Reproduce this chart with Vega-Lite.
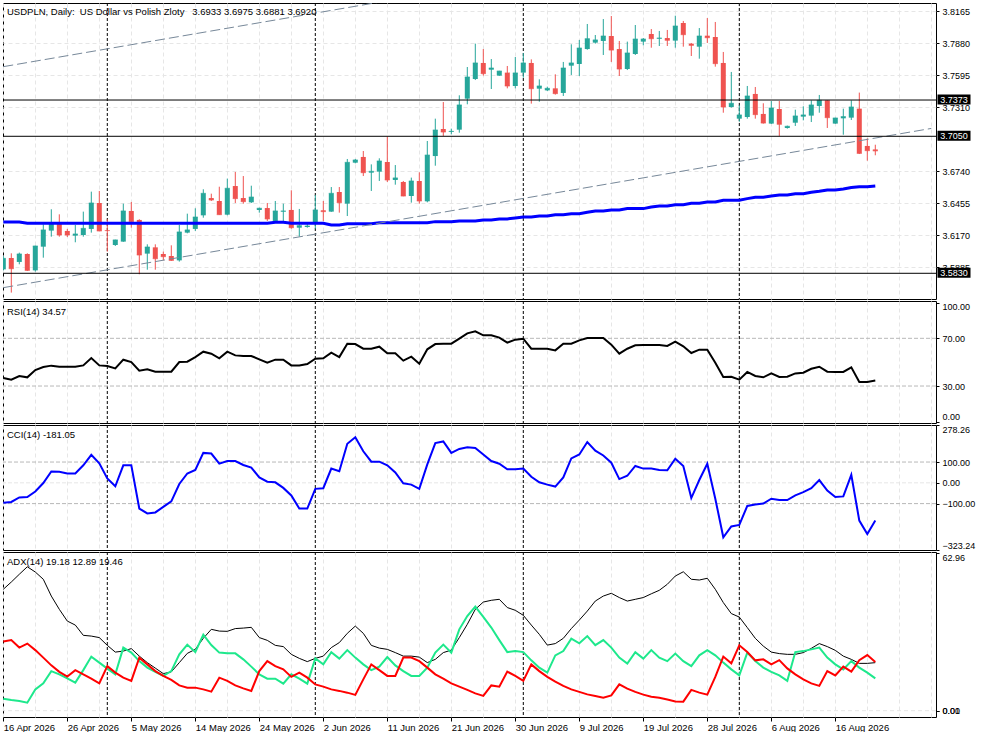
{
  "$schema": "https://vega.github.io/schema/vega-lite/v6.json",
  "background": "white",
  "padding": {"left": 2, "top": 2, "right": 0, "bottom": 0},
  "autosize": {"type": "pad"},
  "spacing": 2,
  "bounds": "flush",
  "config": {
    "font": "Liberation Sans",
    "view": {"stroke": "#000000", "strokeWidth": 1},
    "axis": {"labelFont": "Liberation Sans", "labelFontSize": 9, "labelColor": "#000000", "tickColor": "#000000", "tickSize": 3, "labelPadding": 3, "domain": false, "labelOverlap": false, "gridColor": "#e6e6e6", "gridDash": [4, 3], "gridWidth": 1},
    "axisY": {"labelOverlap": false},
    "axisQuantitative": {"labelOverlap": false},
    "title": {"font": "Liberation Sans", "fontSize": 9.5, "fontWeight": "normal", "color": "#000000", "anchor": "start", "frame": "group", "baseline": "top", "dx": 4}
  },
  "datasets": {
    "bars": [
      {"d":"2026-04-16","o":3.5865,"h":3.5984,"l":3.5856,"c":3.5963,"ma":3.6287,"rsi":36.7,"cci":-95.3,"adx":48.5,"pdi":4.8,"mdi":27.6},
      {"d":"2026-04-17","o":3.5966,"h":3.6008,"l":3.5658,"c":3.5871,"ma":3.6287,"rsi":35.3,"cci":-92.1,"adx":51.4,"pdi":4.3,"mdi":28.2},
      {"d":"2026-04-19","o":3.5931,"h":3.6014,"l":3.5910,"c":3.6002,"ma":3.6287,"rsi":38.4,"cci":-70.1,"adx":54.5,"pdi":3.9,"mdi":25.2},
      {"d":"2026-04-20","o":3.6002,"h":3.6008,"l":3.5850,"c":3.5856,"ma":3.6275,"rsi":37.3,"cci":-68.5,"adx":57.5,"pdi":3.2,"mdi":26.8},
      {"d":"2026-04-21","o":3.5856,"h":3.6076,"l":3.5845,"c":3.6073,"ma":3.6275,"rsi":43.4,"cci":-41.7,"adx":55.4,"pdi":8.5,"mdi":24.2},
      {"d":"2026-04-22","o":3.6067,"h":3.6266,"l":3.5969,"c":3.6216,"ma":3.6275,"rsi":45.9,"cci":-0.8,"adx":52.5,"pdi":10.9,"mdi":21.2},
      {"d":"2026-04-23","o":3.6210,"h":3.6400,"l":3.6156,"c":3.6281,"ma":3.6275,"rsi":47.1,"cci":54.3,"adx":45.8,"pdi":15.8,"mdi":18.1},
      {"d":"2026-04-24","o":3.6275,"h":3.6355,"l":3.6156,"c":3.6171,"ma":3.6275,"rsi":46.2,"cci":52.8,"adx":40.5,"pdi":14.5,"mdi":15.5},
      {"d":"2026-04-26","o":3.6207,"h":3.6225,"l":3.6153,"c":3.6171,"ma":3.6275,"rsi":46.2,"cci":44.9,"adx":35.8,"pdi":12.9,"mdi":13.6},
      {"d":"2026-04-27","o":3.6165,"h":3.6260,"l":3.6106,"c":3.6180,"ma":3.6275,"rsi":46.2,"cci":44.9,"adx":34.2,"pdi":11.2,"mdi":16.2},
      {"d":"2026-04-28","o":3.6171,"h":3.6379,"l":3.6156,"c":3.6230,"ma":3.6275,"rsi":47.3,"cci":84.3,"adx":30.1,"pdi":16.2,"mdi":14.5},
      {"d":"2026-04-29","o":3.6225,"h":3.6557,"l":3.6192,"c":3.6456,"ma":3.6275,"rsi":53.5,"cci":134.6,"adx":29.8,"pdi":21.6,"mdi":12.8},
      {"d":"2026-04-30","o":3.6456,"h":3.6563,"l":3.6205,"c":3.6207,"ma":3.6275,"rsi":47.3,"cci":93.7,"adx":29.2,"pdi":19.2,"mdi":10.9},
      {"d":"2026-05-01","o":3.6213,"h":3.6311,"l":3.6023,"c":3.6210,"ma":3.6275,"rsi":46.8,"cci":21.3,"adx":26.1,"pdi":16.8,"mdi":17.8},
      {"d":"2026-05-03","o":3.6082,"h":3.6129,"l":3.6073,"c":3.6127,"ma":3.6275,"rsi":44.8,"cci":-16.5,"adx":23.4,"pdi":14.5,"mdi":15.2},
      {"d":"2026-05-04","o":3.6112,"h":3.6450,"l":3.6110,"c":3.6385,"ma":3.6275,"rsi":52.1,"cci":84.3,"adx":23.8,"pdi":25.2,"mdi":13.2},
      {"d":"2026-05-05","o":3.6385,"h":3.6465,"l":3.6236,"c":3.6290,"ma":3.6275,"rsi":50.1,"cci":84.3,"adx":24.8,"pdi":23.2,"mdi":11.9},
      {"d":"2026-05-06","o":3.6305,"h":3.6311,"l":3.5821,"c":3.5993,"ma":3.6275,"rsi":42.9,"cci":-123.6,"adx":21.8,"pdi":19.8,"mdi":21.2},
      {"d":"2026-05-07","o":3.6005,"h":3.6088,"l":3.5862,"c":3.6064,"ma":3.6275,"rsi":44.0,"cci":-147.2,"adx":19.2,"pdi":17.2,"mdi":18.5},
      {"d":"2026-05-08","o":3.6061,"h":3.6088,"l":3.5862,"c":3.5960,"ma":3.6275,"rsi":42.0,"cci":-142.5,"adx":17.0,"pdi":15.5,"mdi":15.8},
      {"d":"2026-05-10","o":3.6002,"h":3.6023,"l":3.5945,"c":3.5978,"ma":3.6275,"rsi":42.0,"cci":-115.7,"adx":14.8,"pdi":13.9,"mdi":13.9},
      {"d":"2026-05-11","o":3.5984,"h":3.6079,"l":3.5940,"c":3.5945,"ma":3.6275,"rsi":42.0,"cci":-89.0,"adx":15.5,"pdi":15.8,"mdi":12.3},
      {"d":"2026-05-12","o":3.5945,"h":3.6260,"l":3.5934,"c":3.6198,"ma":3.6275,"rsi":50.1,"cci":-5.5,"adx":19.2,"pdi":22.5,"mdi":10.1},
      {"d":"2026-05-13","o":3.6192,"h":3.6361,"l":3.6186,"c":3.6216,"ma":3.6275,"rsi":50.4,"cci":44.9,"adx":22.9,"pdi":26.4,"mdi":9.2},
      {"d":"2026-05-14","o":3.6225,"h":3.6409,"l":3.6207,"c":3.6331,"ma":3.6275,"rsi":54.3,"cci":62.2,"adx":24.5,"pdi":23.4,"mdi":9.2},
      {"d":"2026-05-15","o":3.6346,"h":3.6578,"l":3.6325,"c":3.6542,"ma":3.6275,"rsi":58.8,"cci":144.1,"adx":28.9,"pdi":30.4,"mdi":8.5},
      {"d":"2026-05-17","o":3.6500,"h":3.6539,"l":3.6474,"c":3.6483,"ma":3.6275,"rsi":57.1,"cci":140.9,"adx":32.5,"pdi":26.2,"mdi":7.6},
      {"d":"2026-05-18","o":3.6474,"h":3.6601,"l":3.6350,"c":3.6352,"ma":3.6275,"rsi":53.2,"cci":92.1,"adx":31.8,"pdi":23.2,"mdi":13.2},
      {"d":"2026-05-19","o":3.6352,"h":3.6673,"l":3.6346,"c":3.6587,"ma":3.6275,"rsi":58.8,"cci":104.7,"adx":31.7,"pdi":22.9,"mdi":11.9},
      {"d":"2026-05-20","o":3.6607,"h":3.6732,"l":3.6456,"c":3.6495,"ma":3.6275,"rsi":55.7,"cci":104.7,"adx":32.8,"pdi":22.9,"mdi":10.1},
      {"d":"2026-05-21","o":3.6500,"h":3.6696,"l":3.6450,"c":3.6468,"ma":3.6275,"rsi":55.2,"cci":85.8,"adx":33.0,"pdi":20.5,"mdi":8.9},
      {"d":"2026-05-22","o":3.6462,"h":3.6610,"l":3.6456,"c":3.6509,"ma":3.6275,"rsi":55.2,"cci":73.2,"adx":33.3,"pdi":17.6,"mdi":7.9},
      {"d":"2026-05-24","o":3.6394,"h":3.6414,"l":3.6370,"c":3.6409,"ma":3.6275,"rsi":52.4,"cci":26.0,"adx":29.2,"pdi":14.5,"mdi":15.8},
      {"d":"2026-05-25","o":3.6411,"h":3.6456,"l":3.6296,"c":3.6314,"ma":3.6275,"rsi":49.6,"cci":5.5,"adx":28.1,"pdi":12.8,"mdi":19.8},
      {"d":"2026-05-26","o":3.6296,"h":3.6474,"l":3.6294,"c":3.6385,"ma":3.6284,"rsi":52.1,"cci":2.4,"adx":26.1,"pdi":12.8,"mdi":17.8},
      {"d":"2026-05-27","o":3.6379,"h":3.6450,"l":3.6296,"c":3.6385,"ma":3.6284,"rsi":52.1,"cci":-24.4,"adx":25.6,"pdi":10.8,"mdi":16.5},
      {"d":"2026-05-28","o":3.6394,"h":3.6569,"l":3.6227,"c":3.6236,"ma":3.6275,"rsi":47.3,"cci":-60.6,"adx":22.5,"pdi":14.5,"mdi":13.5},
      {"d":"2026-05-29","o":3.6236,"h":3.6403,"l":3.6156,"c":3.6254,"ma":3.6275,"rsi":47.3,"cci":-123.6,"adx":20.9,"pdi":12.8,"mdi":15.2},
      {"d":"2026-05-31","o":3.6242,"h":3.6275,"l":3.6236,"c":3.6251,"ma":3.6275,"rsi":48.5,"cci":-123.6,"adx":19.6,"pdi":10.8,"mdi":13.2},
      {"d":"2026-06-01","o":3.6272,"h":3.6527,"l":3.6227,"c":3.6394,"ma":3.6275,"rsi":52.9,"cci":-29.1,"adx":20.9,"pdi":20.9,"mdi":10.5},
      {"d":"2026-06-02","o":3.6391,"h":3.6474,"l":3.6296,"c":3.6379,"ma":3.6275,"rsi":53.2,"cci":-26.0,"adx":21.8,"pdi":18.5,"mdi":9.6},
      {"d":"2026-06-03","o":3.6379,"h":3.6598,"l":3.6377,"c":3.6542,"ma":3.6260,"rsi":58.0,"cci":68.5,"adx":25.2,"pdi":23.4,"mdi":8.5},
      {"d":"2026-06-04","o":3.6554,"h":3.6598,"l":3.6370,"c":3.6459,"ma":3.6260,"rsi":54.3,"cci":55.9,"adx":27.2,"pdi":20.8,"mdi":7.9},
      {"d":"2026-06-05","o":3.6450,"h":3.6848,"l":3.6340,"c":3.6818,"ma":3.6272,"rsi":65.5,"cci":188.2,"adx":30.9,"pdi":24.2,"mdi":7.2},
      {"d":"2026-06-07","o":3.6815,"h":3.6848,"l":3.6809,"c":3.6839,"ma":3.6272,"rsi":65.2,"cci":219.7,"adx":33.8,"pdi":21.2,"mdi":6.3},
      {"d":"2026-06-08","o":3.6866,"h":3.6919,"l":3.6696,"c":3.6726,"ma":3.6272,"rsi":61.3,"cci":152.0,"adx":30.9,"pdi":18.5,"mdi":12.5},
      {"d":"2026-06-09","o":3.6726,"h":3.6800,"l":3.6563,"c":3.6738,"ma":3.6272,"rsi":61.3,"cci":101.6,"adx":26.1,"pdi":16.2,"mdi":18.5},
      {"d":"2026-06-10","o":3.6735,"h":3.6854,"l":3.6652,"c":3.6830,"ma":3.6281,"rsi":63.0,"cci":101.6,"adx":25.0,"pdi":17.6,"mdi":16.2},
      {"d":"2026-06-11","o":3.6821,"h":3.7047,"l":3.6643,"c":3.6661,"ma":3.6281,"rsi":57.4,"cci":84.3,"adx":24.5,"pdi":21.4,"mdi":13.9},
      {"d":"2026-06-12","o":3.6661,"h":3.6794,"l":3.6619,"c":3.6679,"ma":3.6281,"rsi":57.4,"cci":49.6,"adx":23.2,"pdi":18.1,"mdi":13.9},
      {"d":"2026-06-14","o":3.6643,"h":3.6652,"l":3.6516,"c":3.6518,"ma":3.6281,"rsi":51.3,"cci":-2.4,"adx":21.8,"pdi":15.8,"mdi":21.2},
      {"d":"2026-06-15","o":3.6518,"h":3.6682,"l":3.6459,"c":3.6652,"ma":3.6281,"rsi":54.6,"cci":-8.7,"adx":21.8,"pdi":13.9,"mdi":21.2},
      {"d":"2026-06-16","o":3.6652,"h":3.6729,"l":3.6450,"c":3.6474,"ma":3.6281,"rsi":48.7,"cci":-29.1,"adx":21.4,"pdi":13.9,"mdi":19.8},
      {"d":"2026-06-17","o":3.6471,"h":3.7008,"l":3.6462,"c":3.6883,"ma":3.6281,"rsi":60.8,"cci":89.0,"adx":19.2,"pdi":17.2,"mdi":17.2},
      {"d":"2026-06-18","o":3.6874,"h":3.7207,"l":3.6788,"c":3.7106,"ma":3.6290,"rsi":65.2,"cci":191.3,"adx":20.5,"pdi":23.2,"mdi":14.5},
      {"d":"2026-06-19","o":3.7115,"h":3.7355,"l":3.7053,"c":3.7088,"ma":3.6290,"rsi":65.5,"cci":199.2,"adx":23.2,"pdi":26.4,"mdi":12.8},
      {"d":"2026-06-21","o":3.7088,"h":3.7118,"l":3.7067,"c":3.7094,"ma":3.6290,"rsi":65.5,"cci":144.1,"adx":24.2,"pdi":23.2,"mdi":10.9},
      {"d":"2026-06-22","o":3.7109,"h":3.7415,"l":3.7082,"c":3.7329,"ma":3.6296,"rsi":69.7,"cci":163.0,"adx":29.2,"pdi":32.5,"mdi":9.6},
      {"d":"2026-06-23","o":3.7385,"h":3.7667,"l":3.7335,"c":3.7578,"ma":3.6296,"rsi":74.2,"cci":170.9,"adx":34.5,"pdi":37.8,"mdi":8.3},
      {"d":"2026-06-24","o":3.7560,"h":3.7875,"l":3.7551,"c":3.7703,"ma":3.6296,"rsi":75.9,"cci":167.7,"adx":40.5,"pdi":41.6,"mdi":6.9},
      {"d":"2026-06-25","o":3.7703,"h":3.7827,"l":3.7590,"c":3.7608,"ma":3.6305,"rsi":72.5,"cci":136.2,"adx":43.4,"pdi":37.5,"mdi":5.9},
      {"d":"2026-06-26","o":3.7643,"h":3.7738,"l":3.7471,"c":3.7658,"ma":3.6305,"rsi":72.5,"cci":104.7,"adx":44.1,"pdi":33.2,"mdi":10.1},
      {"d":"2026-06-28","o":3.7590,"h":3.7633,"l":3.7588,"c":3.7631,"ma":3.6314,"rsi":70.6,"cci":92.1,"adx":44.5,"pdi":28.2,"mdi":9.6},
      {"d":"2026-06-29","o":3.7617,"h":3.7676,"l":3.7477,"c":3.7498,"ma":3.6314,"rsi":66.4,"cci":65.4,"adx":41.2,"pdi":23.4,"mdi":15.6},
      {"d":"2026-06-30","o":3.7498,"h":3.7756,"l":3.7477,"c":3.7614,"ma":3.6323,"rsi":68.9,"cci":65.4,"adx":40.1,"pdi":23.8,"mdi":13.9},
      {"d":"2026-07-01","o":3.7617,"h":3.7792,"l":3.7572,"c":3.7703,"ma":3.6331,"rsi":69.7,"cci":68.5,"adx":38.1,"pdi":23.4,"mdi":11.9},
      {"d":"2026-07-02","o":3.7703,"h":3.7735,"l":3.7341,"c":3.7474,"ma":3.6331,"rsi":61.3,"cci":29.1,"adx":34.2,"pdi":20.1,"mdi":18.5},
      {"d":"2026-07-03","o":3.7474,"h":3.7557,"l":3.7358,"c":3.7498,"ma":3.6340,"rsi":61.3,"cci":2.4,"adx":30.5,"pdi":17.2,"mdi":15.8},
      {"d":"2026-07-05","o":3.7459,"h":3.7492,"l":3.7453,"c":3.7477,"ma":3.6340,"rsi":61.3,"cci":-8.7,"adx":26.2,"pdi":15.2,"mdi":13.5},
      {"d":"2026-07-06","o":3.7477,"h":3.7602,"l":3.7421,"c":3.7430,"ma":3.6352,"rsi":59.9,"cci":-18.1,"adx":26.8,"pdi":22.1,"mdi":11.6},
      {"d":"2026-07-07","o":3.7436,"h":3.7712,"l":3.7409,"c":3.7658,"ma":3.6352,"rsi":65.5,"cci":26.0,"adx":28.9,"pdi":23.8,"mdi":9.9},
      {"d":"2026-07-08","o":3.7679,"h":3.7869,"l":3.7596,"c":3.7703,"ma":3.6361,"rsi":65.5,"cci":117.3,"adx":32.8,"pdi":28.8,"mdi":8.5},
      {"d":"2026-07-09","o":3.7694,"h":3.7908,"l":3.7587,"c":3.7836,"ma":3.6361,"rsi":68.3,"cci":136.2,"adx":36.2,"pdi":26.9,"mdi":7.5},
      {"d":"2026-07-10","o":3.7827,"h":3.8050,"l":3.7821,"c":3.7919,"ma":3.6373,"rsi":70.3,"cci":196.1,"adx":39.8,"pdi":29.8,"mdi":6.5},
      {"d":"2026-07-12","o":3.7884,"h":3.7952,"l":3.7875,"c":3.7908,"ma":3.6385,"rsi":70.3,"cci":155.1,"adx":43.8,"pdi":26.2,"mdi":5.9},
      {"d":"2026-07-13","o":3.7899,"h":3.8094,"l":3.7774,"c":3.7943,"ma":3.6385,"rsi":70.3,"cci":131.5,"adx":45.8,"pdi":28.2,"mdi":5.2},
      {"d":"2026-07-14","o":3.7943,"h":3.8121,"l":3.7712,"c":3.7818,"ma":3.6394,"rsi":64.7,"cci":96.9,"adx":46.9,"pdi":25.2,"mdi":6.1},
      {"d":"2026-07-15","o":3.7827,"h":3.7899,"l":3.7587,"c":3.7649,"ma":3.6394,"rsi":57.1,"cci":18.1,"adx":45.2,"pdi":21.2,"mdi":10.5},
      {"d":"2026-07-16","o":3.7649,"h":3.7893,"l":3.7640,"c":3.7792,"ma":3.6406,"rsi":61.3,"cci":33.9,"adx":43.8,"pdi":18.8,"mdi":8.8},
      {"d":"2026-07-17","o":3.7783,"h":3.8041,"l":3.7774,"c":3.7916,"ma":3.6406,"rsi":64.1,"cci":81.1,"adx":44.5,"pdi":23.4,"mdi":7.5},
      {"d":"2026-07-19","o":3.7893,"h":3.7925,"l":3.7860,"c":3.7916,"ma":3.6406,"rsi":64.4,"cci":68.5,"adx":45.2,"pdi":20.8,"mdi":6.4},
      {"d":"2026-07-20","o":3.7961,"h":3.8005,"l":3.7839,"c":3.7919,"ma":3.6420,"rsi":64.4,"cci":68.5,"adx":46.7,"pdi":24.2,"mdi":5.6},
      {"d":"2026-07-21","o":3.7919,"h":3.7988,"l":3.7854,"c":3.7925,"ma":3.6429,"rsi":64.4,"cci":62.2,"adx":48.1,"pdi":21.2,"mdi":5.2},
      {"d":"2026-07-22","o":3.7925,"h":3.7997,"l":3.7854,"c":3.7905,"ma":3.6429,"rsi":63.6,"cci":60.6,"adx":50.5,"pdi":19.8,"mdi":4.5},
      {"d":"2026-07-23","o":3.7902,"h":3.8124,"l":3.7839,"c":3.8032,"ma":3.6441,"rsi":67.2,"cci":115.7,"adx":53.8,"pdi":22.8,"mdi":3.7},
      {"d":"2026-07-24","o":3.8059,"h":3.8077,"l":3.7848,"c":3.7955,"ma":3.6441,"rsi":63.3,"cci":81.1,"adx":55.5,"pdi":19.8,"mdi":3.6},
      {"d":"2026-07-26","o":3.7875,"h":3.7881,"l":3.7765,"c":3.7860,"ma":3.6453,"rsi":57.7,"cci":-73.2,"adx":52.5,"pdi":17.8,"mdi":8.3},
      {"d":"2026-07-27","o":3.7848,"h":3.8014,"l":3.7741,"c":3.7943,"ma":3.6453,"rsi":60.5,"cci":13.4,"adx":52.2,"pdi":22.1,"mdi":7.2},
      {"d":"2026-07-28","o":3.7946,"h":3.8103,"l":3.7881,"c":3.7928,"ma":3.6465,"rsi":60.5,"cci":92.1,"adx":52.9,"pdi":24.2,"mdi":6.4},
      {"d":"2026-07-29","o":3.7934,"h":3.8068,"l":3.7670,"c":3.7697,"ma":3.6465,"rsi":49.6,"cci":-76.4,"adx":48.5,"pdi":22.1,"mdi":13.5},
      {"d":"2026-07-30","o":3.7703,"h":3.7801,"l":3.7260,"c":3.7311,"ma":3.6480,"rsi":37.6,"cci":-262.2,"adx":43.2,"pdi":19.2,"mdi":21.6},
      {"d":"2026-07-31","o":3.7311,"h":3.7623,"l":3.7305,"c":3.7344,"ma":3.6480,"rsi":37.8,"cci":-210.2,"adx":38.8,"pdi":16.5,"mdi":18.9},
      {"d":"2026-08-02","o":3.7207,"h":3.7326,"l":3.7180,"c":3.7240,"ma":3.6480,"rsi":35.3,"cci":-202.4,"adx":37.4,"pdi":14.1,"mdi":26.1},
      {"d":"2026-08-03","o":3.7222,"h":3.7498,"l":3.7207,"c":3.7409,"ma":3.6495,"rsi":41.8,"cci":-111.0,"adx":33.2,"pdi":23.2,"mdi":23.4},
      {"d":"2026-08-04","o":3.7427,"h":3.7489,"l":3.7207,"c":3.7243,"ma":3.6507,"rsi":38.4,"cci":-104.7,"adx":28.9,"pdi":19.8,"mdi":20.1},
      {"d":"2026-08-05","o":3.7249,"h":3.7344,"l":3.7163,"c":3.7168,"ma":3.6507,"rsi":37.3,"cci":-100.0,"adx":25.8,"pdi":17.2,"mdi":20.5},
      {"d":"2026-08-06","o":3.7163,"h":3.7364,"l":3.7160,"c":3.7302,"ma":3.6518,"rsi":40.6,"cci":-76.4,"adx":23.4,"pdi":15.5,"mdi":18.5},
      {"d":"2026-08-07","o":3.7293,"h":3.7364,"l":3.7053,"c":3.7157,"ma":3.6527,"rsi":37.6,"cci":-82.7,"adx":22.8,"pdi":14.1,"mdi":20.2},
      {"d":"2026-08-09","o":3.7124,"h":3.7145,"l":3.7118,"c":3.7139,"ma":3.6527,"rsi":37.8,"cci":-82.7,"adx":22.5,"pdi":11.9,"mdi":16.9},
      {"d":"2026-08-10","o":3.7171,"h":3.7287,"l":3.7142,"c":3.7231,"ma":3.6539,"rsi":40.6,"cci":-60.6,"adx":22.5,"pdi":23.4,"mdi":14.5},
      {"d":"2026-08-11","o":3.7225,"h":3.7317,"l":3.7192,"c":3.7240,"ma":3.6539,"rsi":41.2,"cci":-44.9,"adx":23.2,"pdi":23.8,"mdi":12.5},
      {"d":"2026-08-12","o":3.7234,"h":3.7370,"l":3.7177,"c":3.7329,"ma":3.6551,"rsi":44.5,"cci":-26.0,"adx":24.9,"pdi":24.5,"mdi":10.9},
      {"d":"2026-08-13","o":3.7320,"h":3.7418,"l":3.7260,"c":3.7370,"ma":3.6560,"rsi":46.2,"cci":13.4,"adx":26.8,"pdi":25.2,"mdi":9.9},
      {"d":"2026-08-14","o":3.7370,"h":3.7372,"l":3.7124,"c":3.7216,"ma":3.6572,"rsi":42.0,"cci":-37.0,"adx":25.6,"pdi":21.2,"mdi":15.8},
      {"d":"2026-08-16","o":3.7163,"h":3.7215,"l":3.7161,"c":3.7213,"ma":3.6572,"rsi":41.8,"cci":-68.5,"adx":24.1,"pdi":18.5,"mdi":14.1},
      {"d":"2026-08-17","o":3.7210,"h":3.7296,"l":3.7064,"c":3.7225,"ma":3.6581,"rsi":41.8,"cci":-65.4,"adx":21.8,"pdi":16.5,"mdi":17.6},
      {"d":"2026-08-18","o":3.7216,"h":3.7370,"l":3.7195,"c":3.7311,"ma":3.6593,"rsi":45.7,"cci":38.6,"adx":20.5,"pdi":19.8,"mdi":15.6},
      {"d":"2026-08-19","o":3.7296,"h":3.7439,"l":3.6892,"c":3.6898,"ma":3.6601,"rsi":33.4,"cci":-181.9,"adx":18.9,"pdi":17.2,"mdi":20.2},
      {"d":"2026-08-20","o":3.6964,"h":3.7032,"l":3.6833,"c":3.6922,"ma":3.6601,"rsi":33.4,"cci":-246.5,"adx":18.9,"pdi":15.2,"mdi":22.2},
      {"d":"2026-08-21","o":3.6933,"h":3.6975,"l":3.6881,"c":3.6920,"ma":3.6607,"rsi":34.57,"cci":-181.05,"adx":19.18,"pdi":12.89,"mdi":19.46}
    ],
    "seps": [{"d":"2026-05-01"},{"d":"2026-06-01"},{"d":"2026-07-01"},{"d":"2026-08-02"}],
    "trend": [
      {"d":"2026-04-16","p":3.5702,"t":"lower"},{"d":"2026-08-30","p":3.7120,"t":"lower"},
      {"d":"2026-04-16","p":3.7670,"t":"upper"},{"d":"2026-08-30","p":3.9088,"t":"upper"}
    ],
    "levels": [{"v":3.7373},{"v":3.7050},{"v":3.5830}]
  },
  "vconcat": [
    {
      "width": 933, "height": 296,
      "title": {"text": "USDPLN, Daily:\u00a0 US Dollar vs Polish Zloty\u00a0\u00a0 3.6933 3.6975 3.6881 3.6920", "offset": -14},
      "layer": [
        {
          "data": {"name": "seps"},
          "mark": {"type": "rule", "color": "#000000", "strokeDash": [3, 2], "strokeWidth": 1},
          "encoding": {
            "x": {"field": "d", "type": "ordinal", "title": null, "scale": {"type": "point", "padding": 0.3125, "align": 0.06, "domain": {"unionWith": ["2026-08-23","2026-08-24","2026-08-25","2026-08-26","2026-08-27","2026-08-28","2026-08-30"]}},
              "axis": {"values": ["2026-04-16","2026-04-21","2026-04-26","2026-04-30","2026-05-05","2026-05-10","2026-05-14","2026-05-19","2026-05-24","2026-05-28","2026-06-02","2026-06-07","2026-06-11","2026-06-16","2026-06-21","2026-06-25","2026-06-30","2026-07-05","2026-07-09","2026-07-14","2026-07-19","2026-07-23","2026-07-28","2026-08-02","2026-08-06","2026-08-11","2026-08-16","2026-08-20","2026-08-25","2026-08-30"], "labels": false, "ticks": false, "title": null, "grid": true}}
          }
        },
        {
          "data": {"name": "bars"},
          "mark": {"type": "rule", "strokeWidth": 1, "clip": true},
          "encoding": {
            "x": {"field": "d", "type": "ordinal", "title": null, "scale": {"type": "point", "padding": 0.3125, "align": 0.06, "domain": {"unionWith": ["2026-08-23","2026-08-24","2026-08-25","2026-08-26","2026-08-27","2026-08-28","2026-08-30"]}}},
            "y": {"field": "l", "type": "quantitative", "title": null, "scale": {"domain": [3.5601, 3.8237], "zero": false, "nice": false},
              "axis": {"orient": "right", "title": null, "values": [3.8165, 3.788, 3.7595, 3.731, 3.674, 3.6455, 3.617, 3.5885], "tickCount": 20, "format": ".4f", "grid": true, "labelOverlap": false}},
            "y2": {"field": "h"},
            "color": {"condition": {"test": "datum.c >= datum.o", "value": "#26a69a"}, "value": "#ef5350"}
          }
        },
        {
          "data": {"name": "bars"},
          "mark": {"type": "bar", "width": 5, "clip": true},
          "encoding": {
            "x": {"field": "d", "type": "ordinal", "title": null, "scale": {"type": "point", "padding": 0.3125, "align": 0.06, "domain": {"unionWith": ["2026-08-23","2026-08-24","2026-08-25","2026-08-26","2026-08-27","2026-08-28","2026-08-30"]}}},
            "y": {"field": "o", "type": "quantitative", "title": null, "scale": {"domain": [3.5601, 3.8237], "zero": false, "nice": false}},
            "y2": {"field": "c"},
            "color": {"condition": {"test": "datum.c >= datum.o", "value": "#26a69a"}, "value": "#ef5350"}
          }
        },
        {
          "data": {"name": "bars"},
          "mark": {"type": "tick", "size": 5, "thickness": 1, "orient": "horizontal", "clip": true},
          "encoding": {
            "x": {"field": "d", "type": "ordinal", "title": null, "scale": {"type": "point", "padding": 0.3125, "align": 0.06, "domain": {"unionWith": ["2026-08-23","2026-08-24","2026-08-25","2026-08-26","2026-08-27","2026-08-28","2026-08-30"]}}},
            "y": {"field": "c", "type": "quantitative", "title": null, "scale": {"domain": [3.5601, 3.8237], "zero": false, "nice": false}},
            "color": {"condition": {"test": "datum.c >= datum.o", "value": "#26a69a"}, "value": "#ef5350"}
          }
        },
        {
          "data": {"name": "bars"},
          "mark": {"type": "line", "color": "#0000ff", "strokeWidth": 3, "clip": true},
          "encoding": {
            "x": {"field": "d", "type": "ordinal", "title": null, "scale": {"type": "point", "padding": 0.3125, "align": 0.06, "domain": {"unionWith": ["2026-08-23","2026-08-24","2026-08-25","2026-08-26","2026-08-27","2026-08-28","2026-08-30"]}}},
            "y": {"field": "ma", "type": "quantitative", "title": null, "scale": {"domain": [3.5601, 3.8237], "zero": false, "nice": false}}
          }
        },
        {
          "data": {"name": "trend"},
          "mark": {"type": "line", "color": "#778899", "strokeWidth": 1, "strokeDash": [10, 4], "clip": true},
          "encoding": {
            "x": {"field": "d", "type": "ordinal", "title": null, "scale": {"type": "point", "padding": 0.3125, "align": 0.06, "domain": {"unionWith": ["2026-08-23","2026-08-24","2026-08-25","2026-08-26","2026-08-27","2026-08-28","2026-08-30"]}}},
            "y": {"field": "p", "type": "quantitative", "title": null, "scale": {"domain": [3.5601, 3.8237], "zero": false, "nice": false}},
            "detail": {"field": "t"}
          }
        },
        {
          "data": {"name": "levels"},
          "mark": {"type": "rule", "color": "#000000", "strokeWidth": 1},
          "encoding": {
            "y": {"field": "v", "type": "quantitative", "title": null, "scale": {"domain": [3.5601, 3.8237], "zero": false, "nice": false}}
          }
        },
        {
          "data": {"name": "levels"},
          "mark": {"type": "point", "shape": "M0.15,-0.55H3.45V0.45H0.15Z", "size": 400, "filled": true, "color": "#000000", "opacity": 1, "strokeWidth": 0},
          "encoding": {
            "x": {"value": "width"},
            "y": {"field": "v", "type": "quantitative", "title": null, "scale": {"domain": [3.5601, 3.8237], "zero": false, "nice": false}}
          }
        },
        {
          "data": {"name": "levels"},
          "mark": {"type": "text", "align": "center", "baseline": "middle", "dx": 18, "dy": 0, "color": "#ffffff", "fontSize": 9, "font": "Liberation Sans"},
          "encoding": {
            "x": {"value": "width"},
            "y": {"field": "v", "type": "quantitative", "title": null, "scale": {"domain": [3.5601, 3.8237], "zero": false, "nice": false}},
            "text": {"field": "v", "type": "quantitative", "format": ".4f"}
          }
        }
      ]
    },
    {
      "width": 933, "height": 122,
      "title": {"text": "RSI(14) 34.57", "offset": -16},
      "layer": [
        {
          "data": {"name": "seps"},
          "mark": {"type": "rule", "color": "#000000", "strokeDash": [3, 2], "strokeWidth": 1},
          "encoding": {
            "x": {"field": "d", "type": "ordinal", "title": null, "scale": {"type": "point", "padding": 0.3125, "align": 0.06, "domain": {"unionWith": ["2026-08-23","2026-08-24","2026-08-25","2026-08-26","2026-08-27","2026-08-28","2026-08-30"]}},
              "axis": {"values": ["2026-04-16","2026-04-21","2026-04-26","2026-04-30","2026-05-05","2026-05-10","2026-05-14","2026-05-19","2026-05-24","2026-05-28","2026-06-02","2026-06-07","2026-06-11","2026-06-16","2026-06-21","2026-06-25","2026-06-30","2026-07-05","2026-07-09","2026-07-14","2026-07-19","2026-07-23","2026-07-28","2026-08-02","2026-08-06","2026-08-11","2026-08-16","2026-08-20","2026-08-25","2026-08-30"], "labels": false, "ticks": false, "title": null, "grid": true}}
          }
        },
        {
          "data": {"values": [{"v": 30}, {"v": 70}]},
          "mark": {"type": "rule", "color": "#b8b8b8", "strokeDash": [4, 2], "strokeWidth": 1},
          "encoding": {
            "y": {"field": "v", "type": "quantitative", "title": null, "scale": {"domain": [-1.0, 101.3], "zero": false, "nice": false},
              "axis": {"orient": "right", "title": null, "values": [0, 30, 70, 100], "tickCount": 20, "format": ".2f", "grid": false, "labelFlush": 3, "labelOverlap": false}}
          }
        },
        {
          "data": {"name": "bars"},
          "mark": {"type": "line", "color": "#000000", "strokeWidth": 2, "clip": true},
          "encoding": {
            "x": {"field": "d", "type": "ordinal", "title": null, "scale": {"type": "point", "padding": 0.3125, "align": 0.06, "domain": {"unionWith": ["2026-08-23","2026-08-24","2026-08-25","2026-08-26","2026-08-27","2026-08-28","2026-08-30"]}}},
            "y": {"field": "rsi", "type": "quantitative", "title": null, "scale": {"domain": [-1.0, 101.3], "zero": false, "nice": false}}
          }
        }
      ]
    },
    {
      "width": 933, "height": 125,
      "title": {"text": "CCI(14) -181.05", "offset": -15},
      "layer": [
        {
          "data": {"name": "seps"},
          "mark": {"type": "rule", "color": "#000000", "strokeDash": [3, 2], "strokeWidth": 1},
          "encoding": {
            "x": {"field": "d", "type": "ordinal", "title": null, "scale": {"type": "point", "padding": 0.3125, "align": 0.06, "domain": {"unionWith": ["2026-08-23","2026-08-24","2026-08-25","2026-08-26","2026-08-27","2026-08-28","2026-08-30"]}},
              "axis": {"values": ["2026-04-16","2026-04-21","2026-04-26","2026-04-30","2026-05-05","2026-05-10","2026-05-14","2026-05-19","2026-05-24","2026-05-28","2026-06-02","2026-06-07","2026-06-11","2026-06-16","2026-06-21","2026-06-25","2026-06-30","2026-07-05","2026-07-09","2026-07-14","2026-07-19","2026-07-23","2026-07-28","2026-08-02","2026-08-06","2026-08-11","2026-08-16","2026-08-20","2026-08-25","2026-08-30"], "labels": false, "ticks": false, "title": null, "grid": true}}
          }
        },
        {
          "data": {"values": [{"v": 100}, {"v": 0}, {"v": -100}]},
          "mark": {"type": "rule", "strokeDash": [4, 2], "strokeWidth": 1},
          "encoding": {
            "y": {"field": "v", "type": "quantitative", "title": null, "scale": {"domain": [-323.24, 278.26], "zero": false, "nice": false},
              "axis": {"orient": "right", "title": null, "values": [-323.24, -100, 0, 100, 278.26], "tickCount": 20, "format": ".2f", "grid": false, "labelFlush": 3, "labelOverlap": false}},
            "color": {"condition": {"test": "datum.v == 0", "value": "#e6e6e6"}, "value": "#b8b8b8"}
          }
        },
        {
          "data": {"name": "bars"},
          "mark": {"type": "line", "color": "#0000ff", "strokeWidth": 2, "clip": true},
          "encoding": {
            "x": {"field": "d", "type": "ordinal", "title": null, "scale": {"type": "point", "padding": 0.3125, "align": 0.06, "domain": {"unionWith": ["2026-08-23","2026-08-24","2026-08-25","2026-08-26","2026-08-27","2026-08-28","2026-08-30"]}}},
            "y": {"field": "cci", "type": "quantitative", "title": null, "scale": {"domain": [-323.24, 278.26], "zero": false, "nice": false}}
          }
        }
      ]
    },
    {
      "width": 933, "height": 165,
      "title": {"text": "ADX(14) 19.18 12.89 19.46", "offset": -15},
      "layer": [
        {
          "data": {"name": "seps"},
          "mark": {"type": "rule", "color": "#000000", "strokeDash": [3, 2], "strokeWidth": 1},
          "encoding": {
            "x": {"field": "d", "type": "ordinal", "title": null, "scale": {"type": "point", "padding": 0.3125, "align": 0.06, "domain": {"unionWith": ["2026-08-23","2026-08-24","2026-08-25","2026-08-26","2026-08-27","2026-08-28","2026-08-30"]}},
              "axis": {"values": ["2026-04-16","2026-04-21","2026-04-26","2026-04-30","2026-05-05","2026-05-10","2026-05-14","2026-05-19","2026-05-24","2026-05-28","2026-06-02","2026-06-07","2026-06-11","2026-06-16","2026-06-21","2026-06-25","2026-06-30","2026-07-05","2026-07-09","2026-07-14","2026-07-19","2026-07-23","2026-07-28","2026-08-02","2026-08-06","2026-08-11","2026-08-16","2026-08-20","2026-08-25","2026-08-30"],
                "title": null, "grid": true, "tickSize": 4, "labelPadding": 1, "labelAngle": 0, "labelAlign": "left", "labelBaseline": "top", "labelFontSize": 9.5, "labelOverlap": false, "labelBound": false,
                "labelExpr": "indexof(['2026-04-16','2026-04-26','2026-05-05','2026-05-14','2026-05-24','2026-06-02','2026-06-11','2026-06-21','2026-06-30','2026-07-09','2026-07-19','2026-07-28','2026-08-06','2026-08-16'], datum.value) >= 0 ? utcFormat(toDate(datum.value), '%-d %b %Y') : ''",
                "tickOpacity": {"condition": {"test": "indexof(['2026-04-16','2026-04-26','2026-05-05','2026-05-14','2026-05-24','2026-06-02','2026-06-11','2026-06-21','2026-06-30','2026-07-09','2026-07-19','2026-07-28','2026-08-06','2026-08-16'], datum.value) >= 0", "value": 1}, "value": 0}}}
          }
        },
        {
          "data": {"values": [{"v": 0}]},
          "mark": {"type": "rule", "color": "#e6e6e6", "strokeDash": [4, 3], "strokeWidth": 1},
          "encoding": {
            "y": {"field": "v", "type": "quantitative", "title": null, "scale": {"domain": [-2.53, 63.4], "zero": false, "nice": false},
              "axis": {"orient": "right", "title": null, "values": [0, 0.01, 62.96], "tickCount": 20, "format": ".2f", "grid": false, "labelFlush": 3, "labelOverlap": false}}
          }
        },
        {
          "data": {"name": "bars"},
          "mark": {"type": "line", "color": "#000000", "strokeWidth": 1, "clip": true},
          "encoding": {
            "x": {"field": "d", "type": "ordinal", "title": null, "scale": {"type": "point", "padding": 0.3125, "align": 0.06, "domain": {"unionWith": ["2026-08-23","2026-08-24","2026-08-25","2026-08-26","2026-08-27","2026-08-28","2026-08-30"]}}},
            "y": {"field": "adx", "type": "quantitative", "title": null, "scale": {"domain": [-2.53, 63.4], "zero": false, "nice": false}}
          }
        },
        {
          "data": {"name": "bars"},
          "mark": {"type": "line", "color": "#1ee88c", "strokeWidth": 2, "clip": true},
          "encoding": {
            "x": {"field": "d", "type": "ordinal", "title": null, "scale": {"type": "point", "padding": 0.3125, "align": 0.06, "domain": {"unionWith": ["2026-08-23","2026-08-24","2026-08-25","2026-08-26","2026-08-27","2026-08-28","2026-08-30"]}}},
            "y": {"field": "pdi", "type": "quantitative", "title": null, "scale": {"domain": [-2.53, 63.4], "zero": false, "nice": false}}
          }
        },
        {
          "data": {"name": "bars"},
          "mark": {"type": "line", "color": "#ff0000", "strokeWidth": 2, "clip": true},
          "encoding": {
            "x": {"field": "d", "type": "ordinal", "title": null, "scale": {"type": "point", "padding": 0.3125, "align": 0.06, "domain": {"unionWith": ["2026-08-23","2026-08-24","2026-08-25","2026-08-26","2026-08-27","2026-08-28","2026-08-30"]}}},
            "y": {"field": "mdi", "type": "quantitative", "title": null, "scale": {"domain": [-2.53, 63.4], "zero": false, "nice": false}}
          }
        }
      ]
    }
  ]
}
